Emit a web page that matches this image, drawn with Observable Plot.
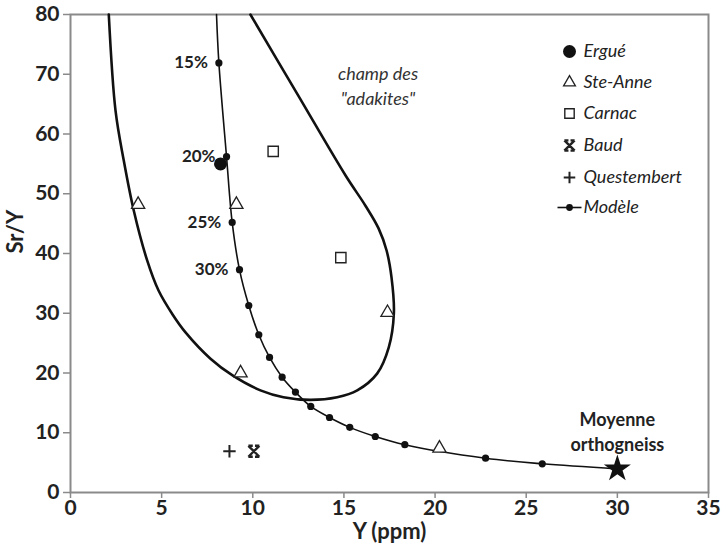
<!DOCTYPE html>
<html>
<head>
<meta charset="utf-8">
<script src="https://cdn.jsdelivr.net/npm/d3@7"></script>
<script src="https://cdn.jsdelivr.net/npm/@observablehq/plot@0.6"></script>
<style>
  html, body { margin: 0; padding: 0; background: #fff; }
  #chart { width: 728px; height: 550px; }
</style>
</head>
<body>
<div id="chart"></div>
<script>
// ---- Data ----
const xTicks = [0, 5, 10, 15, 20, 25, 30, 35];
const yTicks = [0, 10, 20, 30, 40, 50, 60, 70, 80];

// Model curve (Y ppm, Sr/Y); first point is where the curve leaves the top, last is the orthogneiss mean
const modelY   = [8.01, 8.14, 8.56, 8.87, 9.27, 9.78, 10.33, 10.92, 11.61, 12.34, 13.18, 14.21, 15.32, 16.72, 18.34, 22.77, 25.88, 30.0];
const modelSrY = [80,   71.9, 56.2, 45.2, 37.3, 31.3, 26.4,  22.6,  19.3,  16.8,  14.4,  12.55, 10.9,  9.37,  8.0,   5.74,  4.8,   3.96];
const modelLabels = ["", "15%", "20%", "25%", "30%", "", "", "", "", "", "", "", "", "", "", "", "", ""];

// "adakites" field boundary
const adakY   = [2.1, 2.47, 2.92, 3.47, 4.21, 4.83, 5.6,  6.31, 7.68, 8.89, 10.42, 11.68, 13.17, 14.63, 15.73, 16.82, 17.46, 17.74, 17.61, 17.34, 16.9, 16.18, 15.09, 12.48, 9.87];
const adakSrY = [80,  63.9, 55.6, 47.2, 38.8, 33.8, 29.8, 26.8, 22.4, 19.6, 17.1,  15.95, 15.5,  15.95, 17.1,  19.9,  24.3,  30.0,  36.0,  40.5,  44.2, 48.0,  53.05, 66.5,  80];

// Samples
const ergueY = [8.23], ergueSrY = [55.0];
const steAnneY = [3.71, 9.1, 17.39, 9.33, 20.24], steAnneSrY = [48.2, 48.2, 30.1, 20.0, 7.4];
const carnacY = [11.12, 14.83], carnacSrY = [57.1, 39.3];
const baudY = [10.06], baudSrY = [6.9];
const questY = [8.72], questSrY = [6.9];
const orthoY = [30.0], orthoSrY = [3.96];

const legendNames = ["Ergué", "Ste-Anne", "Carnac", "Baud", "Questembert", "Modèle"];
const fieldLabel = "champ des\n\"adakites\"";
const fieldLabelY = [16.87], fieldLabelSrY = [68.35];
const orthoLabel = "Moyenne\northogneiss";

// ---- Build tables ----
const zip = (xs, ys) => xs.map((x, i) => ({x, y: ys[i]}));
const model = modelY.map((x, i) => ({x, y: modelSrY[i], label: modelLabels[i], i}));
const modelDots = model.filter((d, i) => i > 0 && i < model.length - 1);
const adak = zip(adakY, adakSrY);
const ergue = zip(ergueY, ergueSrY);
const steAnne = zip(steAnneY, steAnneSrY);
const carnac = zip(carnacY, carnacSrY);
const baud = zip(baudY, baudSrY);
const quest = zip(questY, questSrY);
const ortho = zip(orthoY, orthoSrY);
const fieldLab = zip(fieldLabelY, fieldLabelSrY);

// custom symbols
const baudSymbol = {
  draw(ctx, size) {
    const s = Math.sqrt(size) / 2;
    ctx.moveTo(-s, -s); ctx.lineTo(s, s);
    ctx.moveTo(s, -s); ctx.lineTo(-s, s);
    ctx.moveTo(-s, -s); ctx.lineTo(-s * 0.2, -s);
    ctx.moveTo(s * 0.2, -s); ctx.lineTo(s, -s);
    ctx.moveTo(-s, s); ctx.lineTo(-s * 0.2, s);
    ctx.moveTo(s * 0.2, s); ctx.lineTo(s, s);
  }
};
const plusSymbol = {
  draw(ctx, size) {
    const s = Math.sqrt(size) / 2;
    ctx.moveTo(-s, 0); ctx.lineTo(s, 0);
    ctx.moveTo(0, -s); ctx.lineTo(0, s);
  }
};
const hLineSymbol = {
  draw(ctx, size) {
    ctx.moveTo(-12, 0); ctx.lineTo(12, 0);
  }
};

const font = "Lato, 'Open Sans', sans-serif";
const ink = "#222";
const axisGray = "#8a8a8a";

// legend layout
const legDy = [37, 68, 99, 131, 163, 193];
const legMarkDx = -139, legTextDx = -125;
const one = [0];

const chart = Plot.plot({
  width: 728,
  height: 550,
  marginLeft: 70,
  marginRight: 20,
  marginTop: 14,
  marginBottom: 58,
  style: {fontFamily: font, background: "#fff", color: ink},
  x: {domain: [0, 35]},
  y: {domain: [0, 80]},
  marks: [
    Plot.axisX({ticks: xTicks, tickSize: 6, tickPadding: 2, stroke: axisGray, strokeWidth: 1.5, fill: ink,
      fontSize: 21, fontWeight: "bold", label: null}),
    Plot.axisY({ticks: yTicks, tickSize: 7, tickPadding: 4, stroke: axisGray, strokeWidth: 1.5, fill: ink,
      fontSize: 21, fontWeight: "bold", label: null}),
    Plot.frame({stroke: axisGray, strokeWidth: 2}),
    Plot.text(["Y (ppm)"], {frameAnchor: "bottom", dy: 46.5, fontSize: 22, fontWeight: "bold", fill: ink}),
    Plot.text(["Sr/Y"], {frameAnchor: "left", dx: -55, rotate: -90, fontSize: 22, fontWeight: "bold", fill: ink}),

    // adakite field
    Plot.line(adak, {x: "x", y: "y", curve: "catmull-rom", stroke: "#111", strokeWidth: 2.6}),
    Plot.text(fieldLab, {x: "x", y: "y", text: () => fieldLabel, fontSize: 18, fontStyle: "italic", fill: "#333", lineHeight: 1.4}),

    // model
    Plot.line(model, {x: "x", y: "y", curve: "catmull-rom", stroke: "#111", strokeWidth: 1.6}),
    Plot.dot(modelDots, {x: "x", y: "y", r: 3.6, fill: "#111"}),
    Plot.text(model, {x: "x", y: "y", text: "label", textAnchor: "end", dx: -11, fontSize: 17, fontWeight: "bold", fill: ink}),

    // samples
    Plot.dot(ergue, {x: "x", y: "y", r: 6.5, fill: "#111"}),
    Plot.dot(steAnne, {x: "x", y: "y", symbol: "triangle", r: 4.9, stroke: "#222", strokeWidth: 1.3, fill: "white"}),
    Plot.dot(carnac, {x: "x", y: "y", symbol: "square", r: 5.8, stroke: "#222", strokeWidth: 1.4, fill: "white"}),
    Plot.dot(baud, {x: "x", y: "y", symbol: baudSymbol, r: 6.2, stroke: "#222", strokeWidth: 2.4, fill: "none"}),
    Plot.dot(quest, {x: "x", y: "y", symbol: plusSymbol, r: 7, stroke: "#222", strokeWidth: 2, fill: "none"}),
    Plot.dot(ortho, {x: "x", y: "y", symbol: "star", r: 8.5, fill: "#111"}),
    Plot.text(ortho, {x: "x", y: "y", text: () => orthoLabel, dy: -38, fontSize: 18, fontWeight: "bold", fill: ink, lineHeight: 1.35}),

    // legend
    Plot.dot(one, {frameAnchor: "top-right", dx: legMarkDx, dy: legDy[0], r: 6.5, fill: "#111"}),
    Plot.dot(one, {frameAnchor: "top-right", dx: legMarkDx, dy: legDy[1], symbol: "triangle", r: 4.4, stroke: "#222", strokeWidth: 1.3, fill: "white"}),
    Plot.dot(one, {frameAnchor: "top-right", dx: legMarkDx, dy: legDy[2], symbol: "square", r: 5.3, stroke: "#222", strokeWidth: 1.4, fill: "white"}),
    Plot.dot(one, {frameAnchor: "top-right", dx: legMarkDx, dy: legDy[3], symbol: baudSymbol, r: 5.8, stroke: "#222", strokeWidth: 2.4, fill: "none"}),
    Plot.dot(one, {frameAnchor: "top-right", dx: legMarkDx, dy: legDy[4], symbol: plusSymbol, r: 6.5, stroke: "#222", strokeWidth: 2, fill: "none"}),
    Plot.dot(one, {frameAnchor: "top-right", dx: legMarkDx, dy: legDy[5], symbol: hLineSymbol, r: 5, stroke: "#111", strokeWidth: 1.6, fill: "none"}),
    Plot.dot(one, {frameAnchor: "top-right", dx: legMarkDx, dy: legDy[5], r: 3.4, fill: "#111"}),
    ...legendNames.map((name, i) =>
      Plot.text([name], {frameAnchor: "top-right", dx: legTextDx, dy: legDy[i], textAnchor: "start", lineAnchor: "middle", fontSize: 18, fontStyle: "italic", fill: ink}))
  ]
});
document.getElementById("chart").appendChild(chart);
</script>
</body>
</html>
